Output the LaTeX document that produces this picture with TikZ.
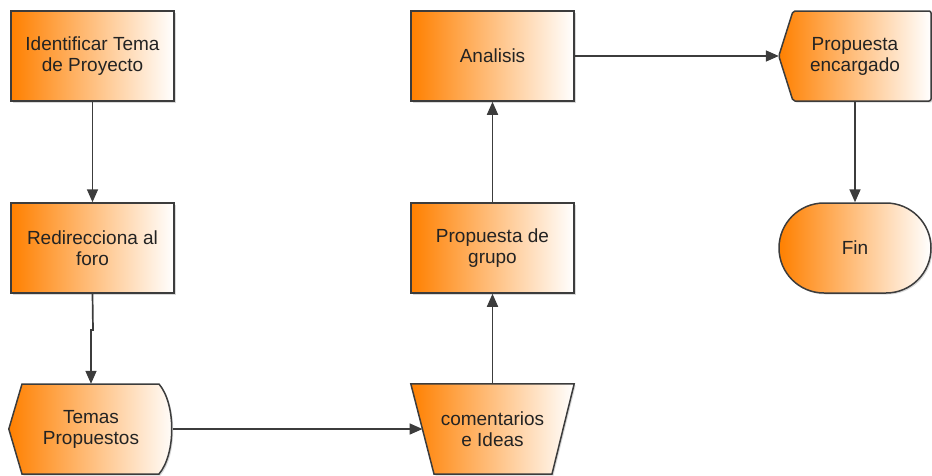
\documentclass[tikz,border=0pt]{standalone}
\usepackage{fontspec}
\setmainfont{Liberation Sans}
\usetikzlibrary{arrows.meta,shadows,backgrounds}

\definecolor{flowOrange}{RGB}{255,128,0}
\definecolor{flowLine}{RGB}{60,60,60}
\definecolor{flowText}{RGB}{35,35,35}

\tikzset{
  base/.style={text=flowText, align=center, inner sep=0pt,
    font=\fontsize{19}{21}\selectfont},
  fillshade/.style={left color=flowOrange, right color=white,
    drop shadow={shadow xshift=1.5pt, shadow yshift=-1.5pt, opacity=0.3, fill=gray}},
  outline/.style={draw=flowLine, line width=1.5pt},
  procbox/.style={base, fillshade, outline, rectangle,
    minimum width=163pt, minimum height=90pt},
  textonly/.style={base, rectangle, minimum height=90pt},
  endbox/.style={base, fillshade, outline, rectangle, rounded corners=45pt,
    minimum width=152pt, minimum height=90pt},
  flow/.style={draw=flowLine, line width=1.7pt,
    -{Triangle[length=13pt,width=11pt]}},
}

\begin{document}
\begin{tikzpicture}[x=1pt, y=-1pt]
  \useasboundingbox (0,0) rectangle (932,475);

  % process steps
  \node[procbox] (ident) at (92.5,56) {Identificar Tema\\de Proyecto};
  \node[procbox] (redir) at (92.5,248) {Redirecciona al\\foro};
  \node[textonly, minimum width=164pt] (temas) at (91,429) {Temas\\Propuestos};
  \node[textonly, minimum width=163pt] (coment) at (492.5,429) {comentarios\\e Ideas};
  \node[procbox] (grupo) at (492.5,248) {Propuesta de\\grupo};
  \node[procbox] (anal) at (492.5,56) {Analisis};
  \node[textonly, minimum width=152pt] (encar) at (855,56) {Propuesta\\encargado};
  \node[endbox] (fin) at (855,248) {Fin};

  % left slope of the manual-operation shape, where the incoming arrow ends
  \coordinate (comentin) at (422.5,429);

  % outlines of the non-rectangular shapes, drawn behind their labels
  \begin{scope}[on background layer]
    \path[fillshade, outline]
      (temas.west) -- (22,384) -- (159,384)
      .. controls (176,404) and (176,454) .. (159,474)
      -- (22,474) -- cycle;
    \path[fillshade, outline]
      (coment.north west) -- (coment.north east) -- (552,474) -- (434,474) -- cycle;
    \path[fillshade, outline, rounded corners=2pt]
      (encar.west) -- (793,11) -- (931,11) -- (931,101) -- (793,101) -- cycle;
  \end{scope}

  % connectors
  \draw[flow] (ident.south) -- (redir.north);
  \draw[flow] (redir.south) -- (93,330) -- (91,330) -- (temas.north);
  \draw[flow] (temas.east) -- (comentin);
  \draw[flow] (coment.north) -- (grupo.south);
  \draw[flow] (grupo.north) -- (anal.south);
  \draw[flow] (anal.east) -- (encar.west);
  \draw[flow] (encar.south) -- (fin.north);
\end{tikzpicture}
\end{document}
